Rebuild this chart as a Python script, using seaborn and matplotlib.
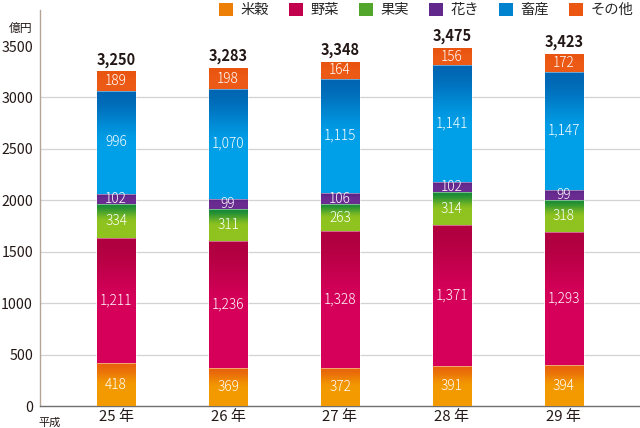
import numpy as np
import pandas as pd
import matplotlib
matplotlib.use("Agg")
import matplotlib.pyplot as plt
import matplotlib.colors as mcolors
from matplotlib.patches import Patch
import seaborn as sns

# data (億円)
years = ["25 年", "26 年", "27 年", "28 年", "29 年"]
kinds = ["米穀", "野菜", "果実", "花き", "畜産", "その他"]
rice = [418, 369, 372, 391, 394]
vegetables = [1211, 1236, 1328, 1371, 1293]
fruit = [334, 311, 263, 314, 318]
flowers = [102, 99, 106, 102, 99]
livestock = [996, 1070, 1115, 1141, 1147]
other = [189, 198, 164, 156, 172]
totals = [3250, 3283, 3348, 3475, 3423]

# gradient colours, top -> bottom of each segment
top_colors = ["#E8640C", "#B0003F", "#178A38", "#5A2486", "#0066B3", "#E9540F"]
bottom_colors = ["#F39A00", "#D6005A", "#8FC31F", "#6A2C91", "#00A0E9", "#EC5A16"]

df = pd.DataFrame({"year": years, "米穀": rice, "野菜": vegetables, "果実": fruit,
                   "花き": flowers, "畜産": livestock, "その他": other})
cum = df[kinds].cumsum(axis=1)

sns.set_theme(style="white")
plt.rcParams["font.family"] = ["Noto Sans CJK JP", "DejaVu Sans"]


def gradient(top, bottom, n=120, frac=0.55):
    t = np.clip(np.linspace(0, 1, n) / frac, 0, 1)
    t = t * t * (3 - 2 * t)
    c0 = np.array(mcolors.to_rgb(top))
    c1 = np.array(mcolors.to_rgb(bottom))
    return (c0[None, :] * (1 - t[:, None]) + c1[None, :] * t[:, None])[:, None, :]


fig = plt.figure(figsize=(6.4, 4.28), dpi=100)
ax = fig.add_axes([40 / 640, 22 / 428, 600 / 640, 396 / 428])

layers = {}
for k in reversed(range(len(kinds))):
    sns.barplot(data=df, x="year", y=cum[kinds[k]], order=years, color=bottom_colors[k],
                saturation=1, width=0.34, ax=ax, zorder=2)
    layers[k] = ax.containers[-1]

for k, name in enumerate(kinds):
    grad = gradient(top_colors[k], bottom_colors[k])
    for i, p in enumerate(layers[k].patches):
        lo = 0 if k == 0 else cum[kinds[k - 1]][i]
        hi = cum[name][i]
        x0, w = p.get_x(), p.get_width()
        ax.imshow(grad, extent=(x0, x0 + w, lo, hi), aspect="auto",
                  interpolation="bilinear", zorder=3)
        ax.text(x0 + w / 2, (lo + hi) / 2, f"{df[name][i]:,}", color="white",
                ha="center", va="center", fontsize=9.8, fontweight="light", zorder=5)
        if k > 0:
            ax.plot([x0, x0 + w], [lo, lo], color="white", lw=0.5, alpha=0.6, zorder=4)

for i, p in enumerate(layers[len(kinds) - 1].patches):
    ax.text(p.get_x() + p.get_width() / 2, totals[i] + 40, f"{totals[i]:,}",
            ha="center", va="bottom", fontsize=10.5, fontweight="bold", color="#231815")

ax.set_xlim(-0.68, 4.68)
ax.set_ylim(0, 3850)
ax.set_yticks(range(0, 3501, 500))
for y in range(500, 3001, 500):
    ax.axhline(y, color="#D3D3D3", lw=0.9, zorder=0)
ax.set_xlabel("")
ax.set_ylabel("")
sns.despine(ax=ax, top=True, right=True)
ax.spines["left"].set_color("#B5A597")
ax.spines["left"].set_linewidth(1.0)
ax.spines["bottom"].set_color("#6E6E6E")
ax.spines["bottom"].set_linewidth(1.0)
ax.tick_params(axis="x", length=0, labelsize=10.8, labelcolor="#231815", pad=3)
ax.tick_params(axis="y", length=0, labelsize=10.2, labelcolor="#231815", pad=5)

fig.text(32 / 640, 1 - 28 / 428, "億円", ha="right", va="center", fontsize=8.5, color="#231815")
fig.text(38 / 640, 1 - 423 / 428, "平成", ha="left", va="center", fontsize=8, color="#231815")

mid_colors = [tuple((np.array(mcolors.to_rgb(a)) + np.array(mcolors.to_rgb(b))) / 2)
              for a, b in zip(top_colors, bottom_colors)]
handles = [Patch(facecolor=c, edgecolor="none") for c in mid_colors]
fig.legend(handles, kinds, loc="upper right", bbox_to_anchor=(1.0, 1.01), ncol=6,
           frameon=False, handlelength=1.0, handleheight=1.0, handletextpad=0.5,
           columnspacing=1.4, fontsize=10.3, borderaxespad=0.1)

fig.savefig("out.png", dpi=100)
plt.close(fig)
